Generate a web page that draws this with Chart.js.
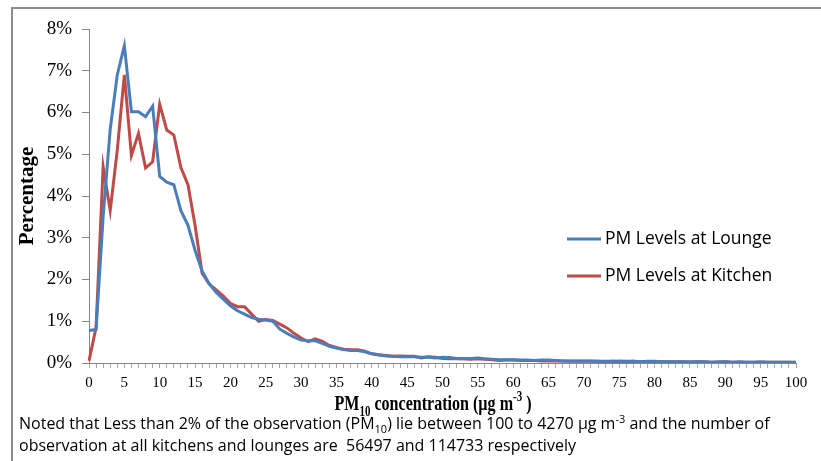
<!DOCTYPE html>
<html>
<head>
<meta charset="utf-8">
<script src="https://cdn.jsdelivr.net/npm/chart.js@4"></script>
<style>
  html, body { margin: 0; padding: 0; background: #fff; }
  #wrap { width: 821px; height: 461px; }
</style>
</head>
<body>
<div id="wrap"><canvas id="pmChart" width="821" height="461"></canvas></div>
<script>
// PM10 concentration bins (ug/m3), 0..100
const concentrationBins = Array.from({ length: 101 }, (_, i) => i);

const loungeValues = [
    0.78, 0.80, 3.50, 5.60, 6.90, 7.60, 6.02, 6.02, 5.90, 6.15,
    4.47, 4.33, 4.27, 3.65, 3.30, 2.70, 2.20, 1.90, 1.69, 1.53,
    1.37, 1.25, 1.17, 1.09, 1.05, 1.03, 1.00, 0.81, 0.71, 0.62,
    0.55, 0.53, 0.53, 0.47, 0.40, 0.36, 0.32, 0.30, 0.30, 0.27,
    0.22, 0.19, 0.17, 0.16, 0.15, 0.15, 0.15, 0.14, 0.14, 0.12,
    0.14, 0.13, 0.11, 0.10, 0.11, 0.12, 0.10, 0.09, 0.08, 0.08,
    0.08, 0.07, 0.07, 0.06, 0.07, 0.07, 0.06, 0.05, 0.05, 0.05,
    0.05, 0.05, 0.04, 0.04, 0.04, 0.05, 0.04, 0.04, 0.03, 0.04,
    0.04, 0.03, 0.03, 0.03, 0.03, 0.03, 0.03, 0.03, 0.02, 0.03,
    0.03, 0.02, 0.03, 0.02, 0.02, 0.03, 0.02, 0.02, 0.02, 0.02,
    0.01
];

const kitchenValues = [
    0.05, 0.85, 4.70, 3.65, 5.10, 6.90, 4.97, 5.50, 4.67, 4.82,
    6.20, 5.58, 5.46, 4.68, 4.27, 3.30, 2.15, 1.89, 1.75, 1.60,
    1.43, 1.35, 1.35, 1.17, 1.00, 1.04, 1.02, 0.93, 0.84, 0.71,
    0.60, 0.51, 0.58, 0.52, 0.42, 0.37, 0.33, 0.32, 0.32, 0.28,
    0.22, 0.20, 0.18, 0.16, 0.17, 0.16, 0.16, 0.12, 0.15, 0.14,
    0.11, 0.10, 0.11, 0.10, 0.09, 0.10, 0.09, 0.08, 0.06, 0.07,
    0.07, 0.06, 0.06, 0.06, 0.05, 0.05, 0.05, 0.05, 0.04, 0.04,
    0.04, 0.04, 0.04, 0.03, 0.04, 0.03, 0.03, 0.04, 0.03, 0.03,
    0.03, 0.03, 0.03, 0.03, 0.03, 0.02, 0.03, 0.03, 0.02, 0.02,
    0.03, 0.02, 0.02, 0.02, 0.02, 0.02, 0.02, 0.02, 0.02, 0.02,
    0.02
];

const seriesNames = ['PM Levels at Lounge', 'PM Levels at Kitchen'];
const seriesColors = ['#4a7ebb', '#be4b48'];

const yTickValues = [0, 1, 2, 3, 4, 5, 6, 7, 8];

const yTitle = 'Percentage';
const xTitleRuns = [['PM', ''], ['10', 'sub'], [' concentration (\u00b5g m', ''], ['-3', 'sup'], [' )', '']];
const noteLine1 = [
    ['Noted that Less than 2% of the observation (PM', ''], ['10', 'sub'],
    [') lie between 100 to 4270 \u00b5g m', ''], ['-3', 'sup'], [' and the number of', '']
];
const noteLine2 = [['observation at all kitchens and lounges are  56497 and 114733 respectively', '']];

const serif = '"Liberation Serif", "DejaVu Serif", serif';
const sans = '"Open Sans", "Noto Sans", sans-serif';

// draws text made of normal / sub / sup runs, squeezed horizontally by sx
function drawRuns(ctx, runs, x, y, size, weight, family, align, sx) {
    const fontFor = (kind) => weight + ' ' + (kind ? Math.round(size * 0.68) : size) + 'px ' + family;
    let total = 0;
    runs.forEach(([t, kind]) => {
        ctx.font = fontFor(kind);
        total += ctx.measureText(t).width;
    });
    ctx.save();
    ctx.translate(x, y);
    ctx.scale(sx, 1);
    let cx = align === 'center' ? -total / 2 : 0;
    ctx.textBaseline = 'alphabetic';
    ctx.textAlign = 'left';
    runs.forEach(([t, kind]) => {
        ctx.font = fontFor(kind);
        let dy = 0;
        if (kind === 'sub') dy = size * 0.25;
        if (kind === 'sup') dy = -size * 0.4;
        ctx.fillText(t, cx, dy);
        cx += ctx.measureText(t).width;
    });
    ctx.restore();
}

const decorPlugin = {
    id: 'decor',
    afterDraw(chart) {
        const ctx = chart.ctx;
        const area = chart.chartArea;
        ctx.save();

        // outer frame (left and top edges only are visible)
        ctx.strokeStyle = '#8c8c8c';
        ctx.lineWidth = 2;
        ctx.beginPath();
        ctx.moveTo(12, 461);
        ctx.lineTo(12, 8);
        ctx.lineTo(821, 8);
        ctx.stroke();

        // y title
        ctx.fillStyle = '#000';
        ctx.save();
        ctx.translate(28, 196);
        ctx.rotate(-Math.PI / 2);
        ctx.font = 'bold 21px ' + serif;
        ctx.textAlign = 'center';
        ctx.textBaseline = 'middle';
        ctx.fillText(yTitle, 0, 0);
        ctx.restore();

        // x title
        drawRuns(ctx, xTitleRuns, 433, 410, 22, 'bold', serif, 'center', 0.73);

        // footnote
        drawRuns(ctx, noteLine1, 19, 429, 16, 'normal', sans, 'left', 1);
        drawRuns(ctx, noteLine2, 19, 451, 16, 'normal', sans, 'left', 1);

        // legend inside plot
        chart.data.datasets.forEach((ds, i) => {
            const ly = 239 + i * 37;
            ctx.strokeStyle = ds.borderColor;
            ctx.lineWidth = 3;
            ctx.beginPath();
            ctx.moveTo(567, ly);
            ctx.lineTo(601, ly);
            ctx.stroke();
            ctx.fillStyle = '#000';
            ctx.font = '17.5px ' + sans;
            ctx.textAlign = 'left';
            ctx.textBaseline = 'middle';
            ctx.fillText(ds.label, 605, ly);
        });
        ctx.restore();
    }
};

const ctx = document.getElementById('pmChart').getContext('2d');
const pmChart = new Chart(ctx, {
    type: 'line',
    data: {
        labels: concentrationBins,
        datasets: [
            {
                label: seriesNames[0],
                data: loungeValues,
                borderColor: seriesColors[0],
                backgroundColor: seriesColors[0],
                borderWidth: 3,
                pointRadius: 0,
                tension: 0,
            },
            {
                label: seriesNames[1],
                data: kitchenValues,
                borderColor: seriesColors[1],
                backgroundColor: seriesColors[1],
                borderWidth: 3,
                pointRadius: 0,
                tension: 0,
            }
        ]
    },
    options: {
        responsive: false,
        animation: false,
        layout: {
            padding: { left: 0, top: 29, right: 25, bottom: 68 }
        },
        plugins: {
            legend: { display: false },
            tooltip: { enabled: false },
        },
        scales: {
            x: {
                type: 'category',
                afterFit: (scale) => { scale.height = 30; },
                grid: {
                    drawOnChartArea: false,
                    drawTicks: true,
                    tickLength: 5,
                    color: '#a6a6a6',
                },
                border: { color: '#868686' },
                ticks: {
                    autoSkip: false,
                    maxRotation: 0,
                    padding: 6,
                    color: '#000',
                    font: { family: serif, size: 15 },
                    callback: function (value, index) {
                        const v = concentrationBins[index];
                        return v % 5 === 0 ? String(v) : '';
                    }
                }
            },
            y: {
                min: yTickValues[0],
                max: yTickValues[yTickValues.length - 1],
                afterFit: (scale) => { scale.width = 89; },
                afterBuildTicks: (scale) => { scale.ticks = yTickValues.map(v => ({ value: v })); },
                grid: {
                    drawOnChartArea: false,
                    drawTicks: true,
                    tickLength: 7,
                    color: '#868686',
                },
                border: { color: '#868686' },
                ticks: {
                    padding: 10,
                    color: '#000',
                    font: { family: serif, size: 19 },
                    callback: (v) => v + '%'
                }
            }
        }
    },
    plugins: [decorPlugin]
});
</script>
</body>
</html>
